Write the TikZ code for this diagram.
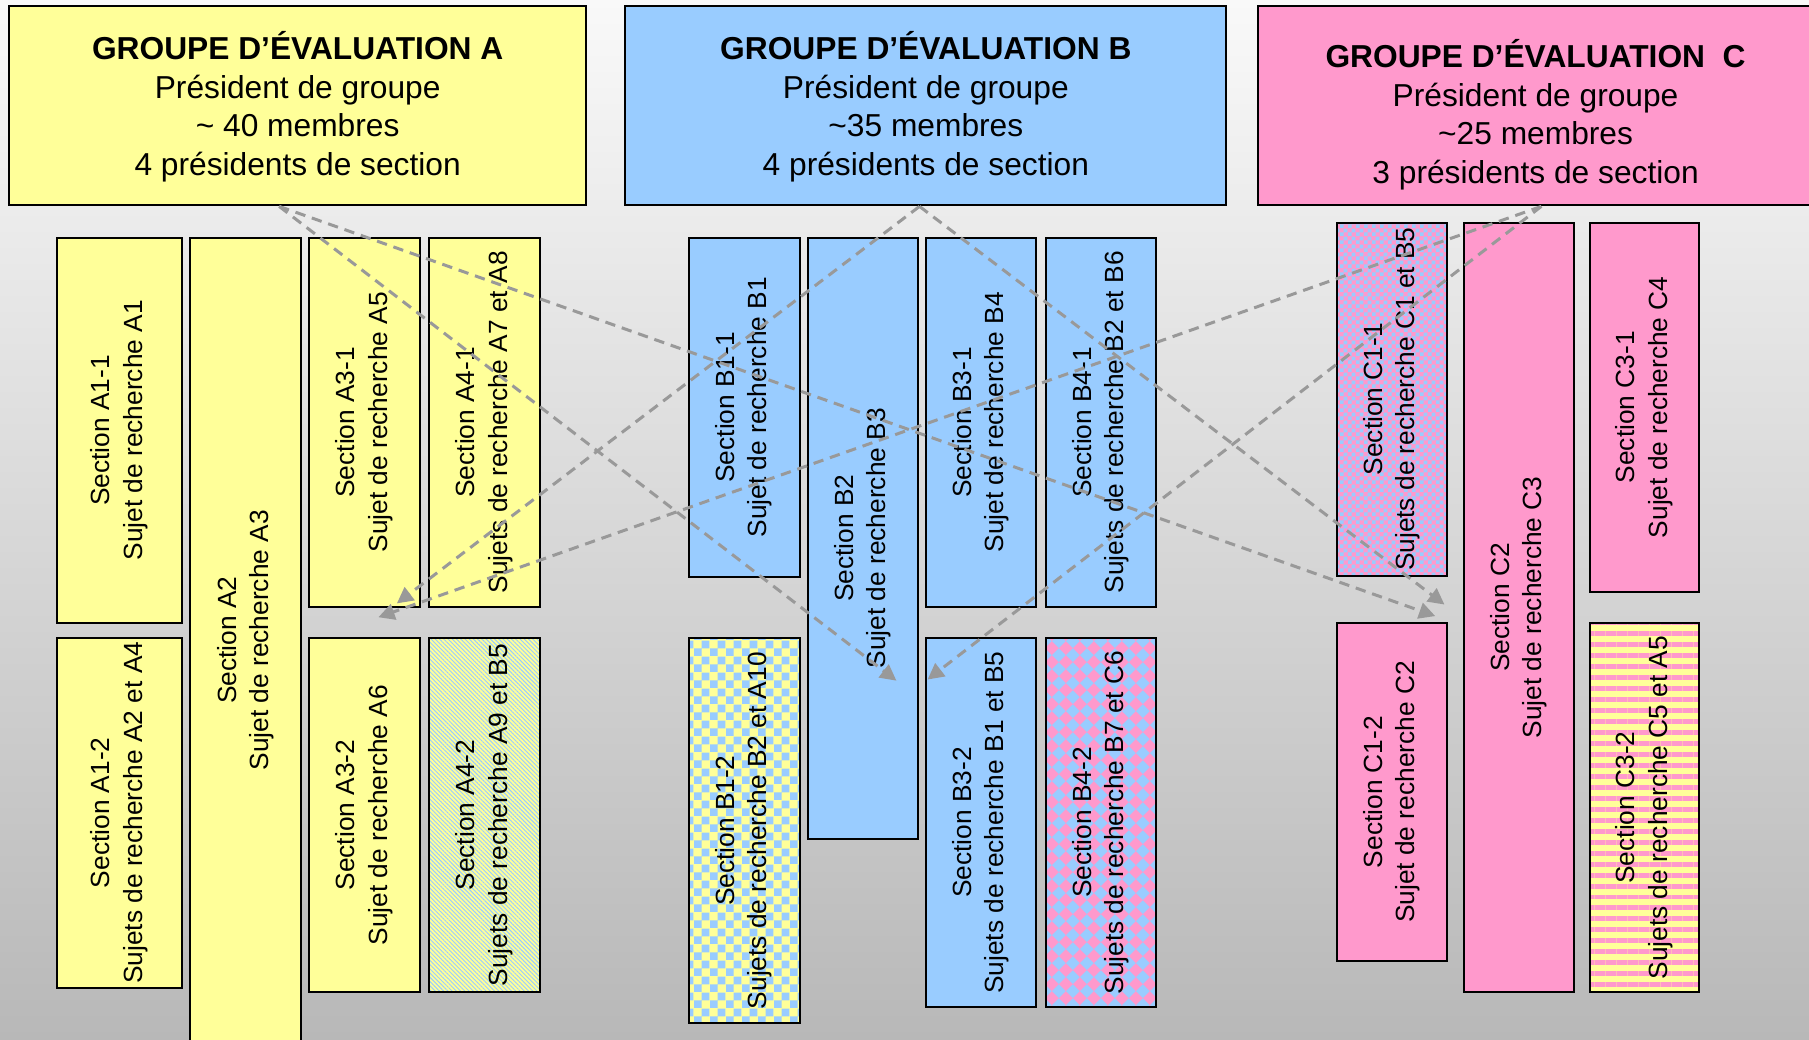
\documentclass[tikz,border=0pt]{standalone}
\usepackage{fontspec}
\setmainfont{Liberation Sans}
\usepackage{graphicx}
\usetikzlibrary{arrows.meta,patterns,patterns.meta,calc}

\definecolor{yA}{HTML}{FFFF99}
\definecolor{bB}{HTML}{99CCFF}
\definecolor{pC}{HTML}{FF99CC}
\definecolor{arr}{HTML}{999999}
\definecolor{bgtop}{HTML}{F9F9F9}
\definecolor{bgbot}{HTML}{B8B8B8}

\pgfdeclarepatternformonly{chk}{\pgfpointorigin}{\pgfpoint{14pt}{14pt}}{\pgfpoint{14pt}{14pt}}{%
  \pgfpathrectangle{\pgfpointorigin}{\pgfpoint{7pt}{7pt}}%
  \pgfpathrectangle{\pgfpoint{7pt}{7pt}}{\pgfpoint{7pt}{7pt}}%
  \pgfusepath{fill}}
\pgfdeclarepatternformonly{finechk}{\pgfpointorigin}{\pgfpoint{7pt}{7pt}}{\pgfpoint{7pt}{7pt}}{%
  \pgfpathrectangle{\pgfpointorigin}{\pgfpoint{3.5pt}{3.5pt}}%
  \pgfpathrectangle{\pgfpoint{3.5pt}{3.5pt}}{\pgfpoint{3.5pt}{3.5pt}}%
  \pgfusepath{fill}}
\pgfdeclarepatternformonly{diam}{\pgfpointorigin}{\pgfpoint{12pt}{12pt}}{\pgfpoint{12pt}{12pt}}{%
  \pgfpathmoveto{\pgfpoint{6pt}{0pt}}%
  \pgfpathlineto{\pgfpoint{12pt}{6pt}}%
  \pgfpathlineto{\pgfpoint{6pt}{12pt}}%
  \pgfpathlineto{\pgfpoint{0pt}{6pt}}%
  \pgfpathclose
  \pgfusepath{fill}}

\newcommand\vtext[2]{\rotatebox{90}{\begin{tabular}{@{}c@{}}#1\\#2\end{tabular}}}

\begin{document}
\begin{tikzpicture}[x=1pt,y=-1pt,
  secbox/.style={draw=black, line width=1.7pt, inner sep=0pt,
    font=\fontsize{22.8}{28}\selectfont},
  headbox/.style={draw=black, line width=1.8pt, inner sep=0pt},
  headtext/.style={align=center, inner sep=0pt,
    font=\fontsize{27.5}{33.5}\selectfont},
  link/.style={draw=arr, line width=2.6pt, dash pattern=on 9pt off 6pt,
    -{Triangle[length=14pt,width=14pt,fill=arr]}},
  wA/.style={minimum width=109pt},
  wN/.style={minimum width=96pt},
  wM/.style={minimum width=95pt},
]
\useasboundingbox (0,0) rectangle (1568,901);
\clip (0,0) rectangle (1568,901);
\shade[top color=bgtop, bottom color=bgbot] (0,0) rectangle (1568,901);

% headers
\node[headbox, fill=yA, minimum width=500pt, minimum height=173pt] (hA) at (258,91.5) {};
\node[headbox, fill=bB, minimum width=521pt, minimum height=173pt] (hB) at (802.5,91.5) {};
\node[headbox, fill=pC, minimum width=482pt, minimum height=173pt] (hC) at (1331,91.5) {};
\node[headtext] (tA) at (258,92.5) {\textbf{GROUPE D’ÉVALUATION A}\\Président de groupe\\\textasciitilde\ 40 membres\\4 présidents de section};
\node[headtext] (tB) at (802.5,92.5) {\textbf{GROUPE D’ÉVALUATION B}\\Président de groupe\\\textasciitilde35 membres\\4 présidents de section};
\node[headtext] (tC) at (1331,99.5) {\textbf{GROUPE D’ÉVALUATION\ \ C}\\Président de groupe\\\textasciitilde25 membres\\3 présidents de section};

% group A
\node[secbox, wA, fill=yA, minimum height=334pt] (a11) at (103.5,373) {\vtext{Section A1-1}{Sujet de recherche A1}};
\node[secbox, wA, fill=yA, minimum height=303pt] (a12) at (103.5,704.5) {\vtext{Section A1-2}{Sujets de recherche A2 et A4}};
\node[secbox, wN, fill=yA, minimum height=698pt] (a2) at (213,555) {\vtext{Section A2}{Sujet de recherche A3}};
\node[secbox, wN, fill=yA, minimum height=320pt] (a31) at (316,366) {\vtext{Section A3-1}{Sujet de recherche A5}};
\node[secbox, wN, fill=yA, minimum height=307pt] (a32) at (316,706.5) {\vtext{Section A3-2}{Sujet de recherche A6}};
\node[secbox, wN, fill=yA, minimum height=320pt] (a41) at (420,366) {\vtext{Section A4-1}{Sujets de recherche A7 et A8}};
\node[secbox, wN, preaction={fill=yA}, pattern={Lines[angle=-45,distance=2.6pt,line width=0.8pt]}, pattern color=bB, minimum height=307pt] (a42) at (420,706.5) {\vtext{Section A4-2}{Sujets de recherche A9 et B5}};

% group B
\node[secbox, wN, fill=bB, minimum height=294pt] (b11) at (645,353) {\vtext{Section B1-1}{Sujet de recherche B1}};
\node[secbox, wN, preaction={fill=yA}, pattern=chk, pattern color=bB, minimum height=334pt] (b12) at (645,720) {\vtext{Section B1-2}{Sujets de recherche B2 et A10}};
\node[secbox, wN, fill=bB, minimum height=521pt] (b2) at (748,466.5) {\vtext{Section B2}{Sujet de recherche B3}};
\node[secbox, wM, fill=bB, minimum height=320pt] (b31) at (850.5,366) {\vtext{Section B3-1}{Sujet de recherche B4}};
\node[secbox, wM, fill=bB, minimum height=320pt] (b32) at (850.5,713) {\vtext{Section B3-2}{Sujets de recherche B1 et B5}};
\node[secbox, wM, fill=bB, minimum height=320pt] (b41) at (954.5,366) {\vtext{Section B4-1}{Sujets de recherche B2 et B6}};
\node[secbox, wM, preaction={fill=pC}, pattern=diam, pattern color=bB, minimum height=320pt] (b42) at (954.5,713) {\vtext{Section B4-2}{Sujets de recherche B7 et C6}};

% group C
\node[secbox, wM, preaction={fill=pC}, pattern=finechk, pattern color=bB, minimum height=306pt] (c11) at (1206.5,346) {\vtext{Section C1-1}{Sujets de recherche C1 et B5}};
\node[secbox, wM, fill=pC, minimum height=293pt] (c12) at (1206.5,686.5) {\vtext{Section C1-2}{Sujet de recherche C2}};
\node[secbox, wM, fill=pC, minimum height=667pt] (c2) at (1316.5,526.5) {\vtext{Section C2}{Sujet de recherche C3}};
\node[secbox, wM, fill=pC, minimum height=320pt] (c31) at (1425.5,353) {\vtext{Section C3-1}{Sujet de recherche C4}};
\node[secbox, wM, preaction={fill=yA}, pattern={Lines[angle=0,distance=9.5pt,line width=4.3pt]}, pattern color=pC, minimum height=320pt] (c32) at (1425.5,700) {\vtext{Section C3-2}{Sujets de recherche C5 et A5}};

% connectors
\coordinate (aS) at ($(hA.south)+(-16,0)$);
\coordinate (bS) at ($(hB.south)+(-5.5,0)$);
\coordinate (cS) at ($(hC.south)+(5,0)$);
\coordinate (eAB) at (777,590);
\coordinate (eAC) at (1244,534);
\coordinate (eBA) at (344,523);
\coordinate (eBC) at (1252,524);
\coordinate (eCA) at (328,535);
\coordinate (eCB) at (804,589);
\draw[link] (aS) -- (eAB);
\draw[link] (aS) -- (eAC);
\draw[link] (bS) -- (eBA);
\draw[link] (bS) -- (eBC);
\draw[link] (cS) -- (eCA);
\draw[link] (cS) -- (eCB);
\end{tikzpicture}
\end{document}
